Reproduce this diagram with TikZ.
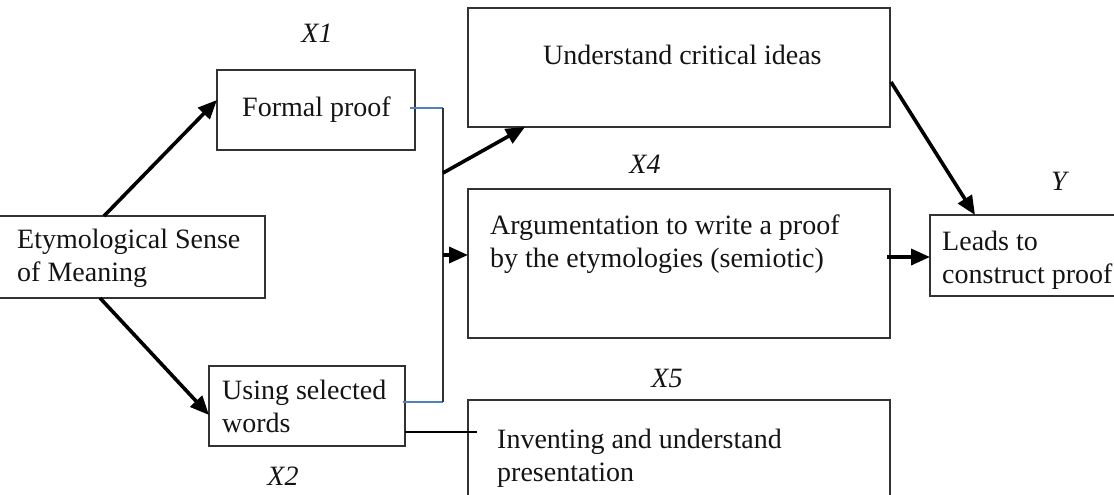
\documentclass[tikz,border=0pt]{standalone}
\usepackage{fontspec}
\setmainfont{Liberation Serif}
\usetikzlibrary{arrows.meta}
\definecolor{boxgray}{RGB}{50,50,50}
\definecolor{linkblue}{RGB}{79,129,189}
\definecolor{txtcol}{RGB}{20,20,20}
\begin{document}
\begin{tikzpicture}[x=1pt,y=-1pt,
  every node/.style={font=\fontsize{28}{33}\selectfont,text=txtcol},
  box/.style={draw=boxgray,line width=2.2pt,inner sep=0pt,outer sep=0pt,anchor=north west},
  txt/.style={anchor=base west,inner sep=0pt,align=left},
  lab/.style={anchor=base,inner sep=0pt,font=\fontsize{28}{33}\selectfont\itshape},
  bigarrow/.style={line width=3.6pt,-{Triangle[length=19pt,width=16pt]}},
  bluelink/.style={draw=linkblue,line width=1.4pt},
  spine/.style={draw=boxgray,line width=2.4pt},
  thinlink/.style={draw=black,line width=1.8pt}]
\useasboundingbox (0,0) rectangle (1114,495);
\clip (0,0) rectangle (1114,495);
% boxes
\node[box,minimum width=270pt,minimum height=82pt] (ety) at (-5,216) {};
\node[box,minimum width=198pt,minimum height=80pt] (fp) at (217,70) {};
\node[box,minimum width=422pt,minimum height=119pt] (uci) at (468,8) {};
\node[box,minimum width=422pt,minimum height=149pt] (arg) at (468,189) {};
\node[box,minimum width=196pt,minimum height=80pt] (usw) at (209,366) {};
\node[box,minimum width=422pt,minimum height=120pt] (inv) at (468,400) {};
\node[box,minimum width=200pt,minimum height=81pt] (lead) at (930,215) {};
% texts (base = baseline of the last line)
\node[txt] (etyt) at (17,281) {Etymological Sense\\of Meaning};
\node[txt] (fpt) at (242,117) {Formal proof};
\node[txt] (ucit) at (543,65) {Understand critical ideas};
\node[txt] (argt) at (490,267) {Argumentation to write a proof\\by the etymologies (semiotic)};
\node[txt] (uswt) at (222,432) {Using selected\\words};
\node[txt] (invt) at (497,481) {Inventing and understand\\presentation};
\node[txt] (leadt) at (942,283) {Leads to\\construct proof};
% labels
\node[lab] (x1) at (317,43) {X1};
\node[lab] (x2) at (283,485) {X2};
\node[lab] (x4) at (645,173) {X4};
\node[lab] (x5) at (667,387) {X5};
\node[lab] (y) at (1059,190) {Y};
% junction coordinates
\coordinate (jtop) at (443,108);
\coordinate (jbot) at (443,402);
\coordinate (jmid) at (443,173);
\coordinate (jarg) at (443,255);
% connectors
\draw[bigarrow] ([xshift=-26pt]ety.north) -- ([yshift=10pt]fp.west);
\draw[bigarrow] ([xshift=-30pt]ety.south) -- ([yshift=-9pt]usw.west);
\draw[bluelink] ([xshift=-5pt,yshift=2pt]fp.east) -- (jtop);
\draw[bluelink] ([xshift=-2pt,yshift=4pt]usw.east) -- (jbot);
\draw[spine] (jtop) -- (jbot);
\draw[bigarrow] (jmid) -- ([xshift=-154pt]uci.south);
\draw[bigarrow] (jarg) -- (jarg -| arg.west);
\draw[thinlink] ([yshift=-26pt]usw.east) coordinate (u2) -- ([xshift=9pt]u2 -| inv.west);
\draw[bigarrow] ([xshift=1pt,yshift=-14.5pt]uci.east) -- ([xshift=-55pt]lead.north);
\draw[bigarrow] ([xshift=-3pt,yshift=6.5pt]arg.east) coordinate (a2) -- (a2 -| lead.west);
\end{tikzpicture}
\end{document}
